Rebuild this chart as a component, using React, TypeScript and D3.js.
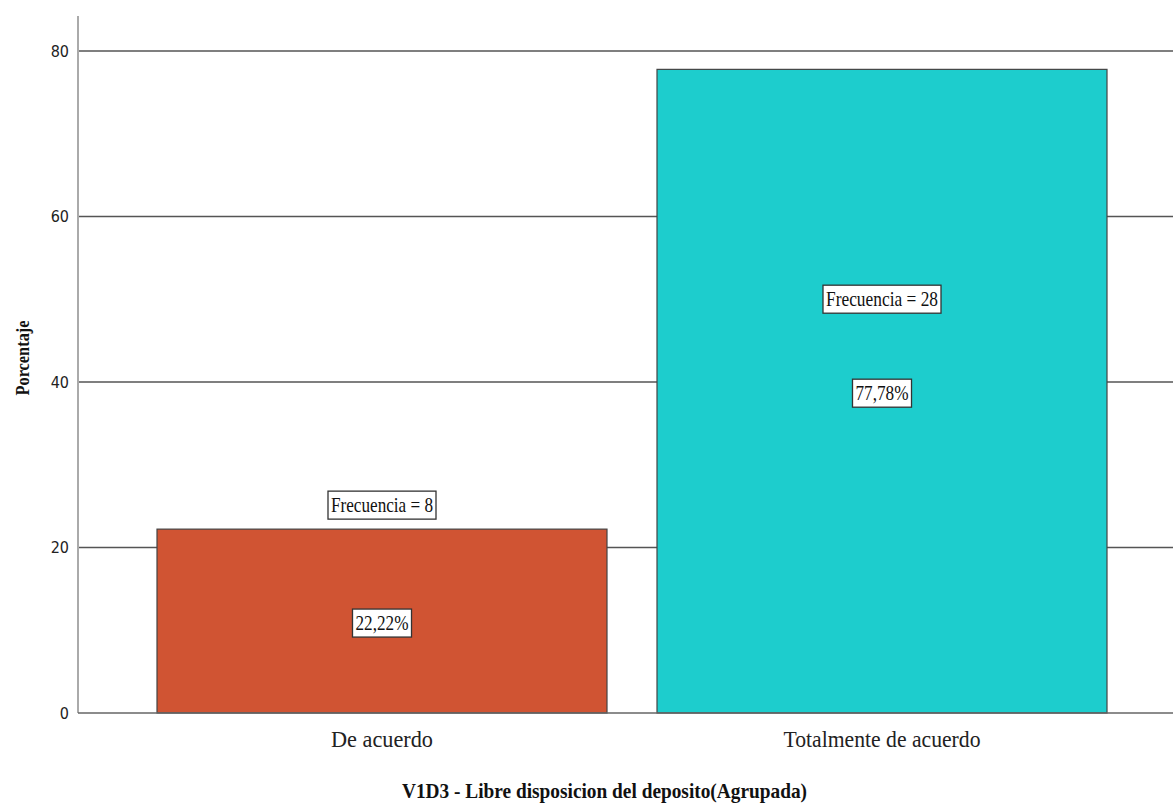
import React, { useEffect, useRef } from 'react';
import * as d3 from 'd3';

const categories = ['De acuerdo', 'Totalmente de acuerdo'];
const percentages = [22.22, 77.78];
const frequencies = [8, 28];
const percentLabels = ['22,22%', '77,78%'];
const yTicks = [0, 20, 40, 60, 80];
const barColors = ['#d05433', '#1dcdcd'];

const W = 1173;
const H = 805;

export default function App() {
  const svgRef = useRef<SVGSVGElement>(null);

  useEffect(() => {
    if (!svgRef.current) return;
    const svg = d3.select(svgRef.current);
    svg.selectAll('*').remove();

    const axisX = 78;
    const y = d3.scaleLinear().domain([0, 80]).range([713, 51]);
    const x = d3.scaleBand<string>()
      .domain(categories)
      .range([107, 1157])
      .paddingInner(0.1)
      .paddingOuter(0.1);

    // grid lines
    svg.append('g')
      .selectAll('line')
      .data(yTicks.filter(t => t > 0))
      .enter()
      .append('line')
      .attr('x1', axisX)
      .attr('x2', W)
      .attr('y1', d => y(d))
      .attr('y2', d => y(d))
      .attr('stroke', '#555')
      .attr('stroke-width', 1.5);

    // tick labels
    svg.append('g')
      .selectAll('text')
      .data(yTicks)
      .enter()
      .append('text')
      .attr('x', 69)
      .attr('y', d => y(d))
      .attr('dy', '0.36em')
      .attr('text-anchor', 'end')
      .attr('font-family', 'DejaVu Sans Condensed, DejaVu Sans, sans-serif')
      .attr('font-size', 16)
      .attr('fill', '#222')
      .text(d => String(d));

    // bars
    svg.append('g')
      .selectAll('rect')
      .data(percentages)
      .enter()
      .append('rect')
      .attr('x', (_, i) => x(categories[i])!)
      .attr('width', x.bandwidth())
      .attr('y', d => y(d))
      .attr('height', d => y(0) - y(d))
      .attr('fill', (_, i) => barColors[i])
      .attr('stroke', '#444')
      .attr('stroke-width', 1.2);

    // axes lines
    svg.append('line')
      .attr('x1', axisX).attr('x2', axisX)
      .attr('y1', 16).attr('y2', y(0))
      .attr('stroke', '#aaa').attr('stroke-width', 2);
    svg.append('line')
      .attr('x1', axisX).attr('x2', W)
      .attr('y1', y(0)).attr('y2', y(0))
      .attr('stroke', '#666').attr('stroke-width', 1.5);

    const box = (cx: number, cy: number, txt: string, len: number) => {
      const g = svg.append('g');
      g.append('rect')
        .attr('x', cx - len / 2 - 3)
        .attr('y', cy - 14)
        .attr('width', len + 6)
        .attr('height', 28)
        .attr('fill', '#fff')
        .attr('stroke', '#333')
        .attr('stroke-width', 1.3);
      g.append('text')
        .attr('x', cx)
        .attr('y', cy + 7)
        .attr('text-anchor', 'middle')
        .attr('font-family', 'Liberation Serif, serif')
        .attr('font-size', 22)
        .attr('textLength', len)
        .attr('lengthAdjust', 'spacingAndGlyphs')
        .attr('fill', '#111')
        .text(txt);
    };

    percentages.forEach((p, i) => {
      const cx = x(categories[i])! + x.bandwidth() / 2;
      const mid = (y(p) + y(0)) / 2;
      const freqTxt = `Frecuencia = ${frequencies[i]}`;
      const freqY = y(0) - y(p) > 300 ? mid - 92 : y(p) - 24;
      box(cx, freqY, freqTxt, frequencies[i] >= 10 ? 112 : 102);
      box(cx, mid + 2, percentLabels[i], 53);
    });

    // category labels
    const catLen = [102, 197];
    svg.append('g')
      .selectAll('text')
      .data(categories)
      .enter()
      .append('text')
      .attr('x', d => x(d)! + x.bandwidth() / 2)
      .attr('y', 747)
      .attr('text-anchor', 'middle')
      .attr('font-family', 'Liberation Serif, serif')
      .attr('font-size', 23)
      .attr('textLength', (_, i) => catLen[i])
      .attr('lengthAdjust', 'spacingAndGlyphs')
      .attr('fill', '#222')
      .text(d => d);

    // axis titles
    svg.append('text')
      .attr('x', 402)
      .attr('y', 798)
      .attr('font-family', 'Liberation Serif, serif')
      .attr('font-weight', 'bold')
      .attr('font-size', 22)
      .attr('textLength', 405)
      .attr('lengthAdjust', 'spacingAndGlyphs')
      .attr('fill', '#111')
      .text('V1D3 - Libre disposicion del deposito(Agrupada)');

    svg.append('text')
      .attr('transform', `translate(29,358) rotate(-90)`)
      .attr('text-anchor', 'middle')
      .attr('font-family', 'Liberation Serif, serif')
      .attr('font-weight', 'bold')
      .attr('font-size', 19)
      .attr('textLength', 75)
      .attr('lengthAdjust', 'spacingAndGlyphs')
      .attr('fill', '#111')
      .text('Porcentaje');
  }, []);

  return (
    <svg
      ref={svgRef}
      width={W}
      height={H}
      style={{ position: 'absolute', left: 0, top: 0, background: '#fff' }}
    />
  );
}
